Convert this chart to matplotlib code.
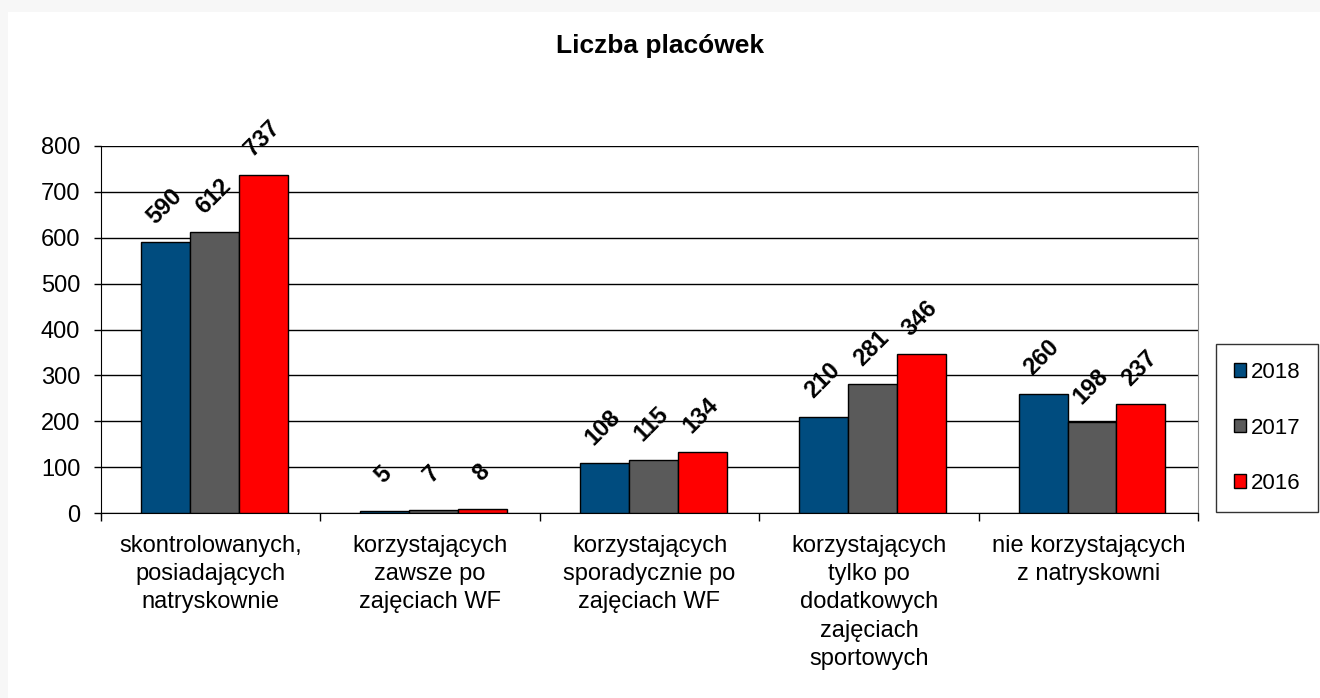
import matplotlib
matplotlib.use("Agg")
from matplotlib import pyplot as plt
from matplotlib.patches import Rectangle
import numpy as np

plt.rcParams['font.family'] = ['Liberation Sans', 'DejaVu Sans']

categories = ['skontrolowanych,\nposiadających\nnatryskownie',
              'korzystających\nzawsze po\nzajęciach WF',
              'korzystających\nsporadycznie po\nzajęciach WF',
              'korzystających\ntylko po\ndodatkowych\nzajęciach\nsportowych',
              'nie korzystających\nz natryskowni']
years = ['2018', '2017', '2016']
v2018 = [590, 5, 108, 210, 260]
v2017 = [612, 7, 115, 281, 198]
v2016 = [737, 8, 134, 346, 237]
colors = ['#004c7f', '#5a5a5a', '#ff0000']

fig = plt.figure(figsize=(13.2, 6.98), dpi=100)
fig.patch.set_facecolor('#f7f7f7')
fig.patches.append(Rectangle((8 / 1320, 0), 1 - 8 / 1320, 1 - 12 / 698,
                             transform=fig.transFigure, facecolor='white',
                             edgecolor='none', zorder=-10))

ax = fig.add_axes([101 / 1320, 1 - 513 / 698, 1097 / 1320, 367 / 698])
x = np.arange(len(categories))
w = 0.223
series = [v2018, v2017, v2016]
for i, vals in enumerate(series):
    pos = x + (i - 1) * w + 0.017
    bars = ax.bar(pos, vals, width=w, color=colors[i], edgecolor='black',
                  linewidth=1, label=years[i], zorder=3)
    for b, v in zip(bars, vals):
        ax.annotate(str(v), (b.get_x() + b.get_width() / 2, v),
                    xytext=(-1, 26), textcoords='offset points',
                    rotation=45, ha='center', va='center',
                    fontsize=17, fontweight='bold')

ax.set_xlim(-0.5, len(categories) - 0.5)
ax.set_ylim(0, 800)
ax.set_yticks(range(0, 801, 100))
ax.tick_params(axis='y', labelsize=17, length=5, width=1, color='black', pad=10)
ax.yaxis.grid(True, color='black', linewidth=1, zorder=0)
ax.set_axisbelow(True)
ax.set_xticks([])
ax.set_xticks(np.arange(-0.5, len(categories) + 0.5, 1), minor=True)
ax.tick_params(axis='x', which='minor', length=6, width=1, direction='out')
for i, c in enumerate(categories):
    ax.annotate(c, (x[i], 0), xytext=(0, -16), textcoords='offset points',
                ha='center', va='top', fontsize=17, linespacing=1.36,
                annotation_clip=False)
ax.spines['right'].set_color('#888888')
ax.spines['top'].set_visible(False)
ax.spines['left'].set_color('black')
ax.spines['bottom'].set_color('black')

fig.text(660 / 1320, 1 - 46 / 698, 'Liczba placówek', ha='center',
         va='center', fontsize=19, fontweight='bold')

leg = fig.legend(loc='center', bbox_to_anchor=(1267 / 1320, 1 - 428 / 698),
                 fontsize=16, frameon=True, fancybox=False,
                 handlelength=0.55, handleheight=0.55, handletextpad=0.2,
                 labelspacing=1.55, borderpad=0.8, edgecolor='black')
leg.get_frame().set_linewidth(1)

fig.savefig('out.png', dpi=100, facecolor=fig.get_facecolor())
